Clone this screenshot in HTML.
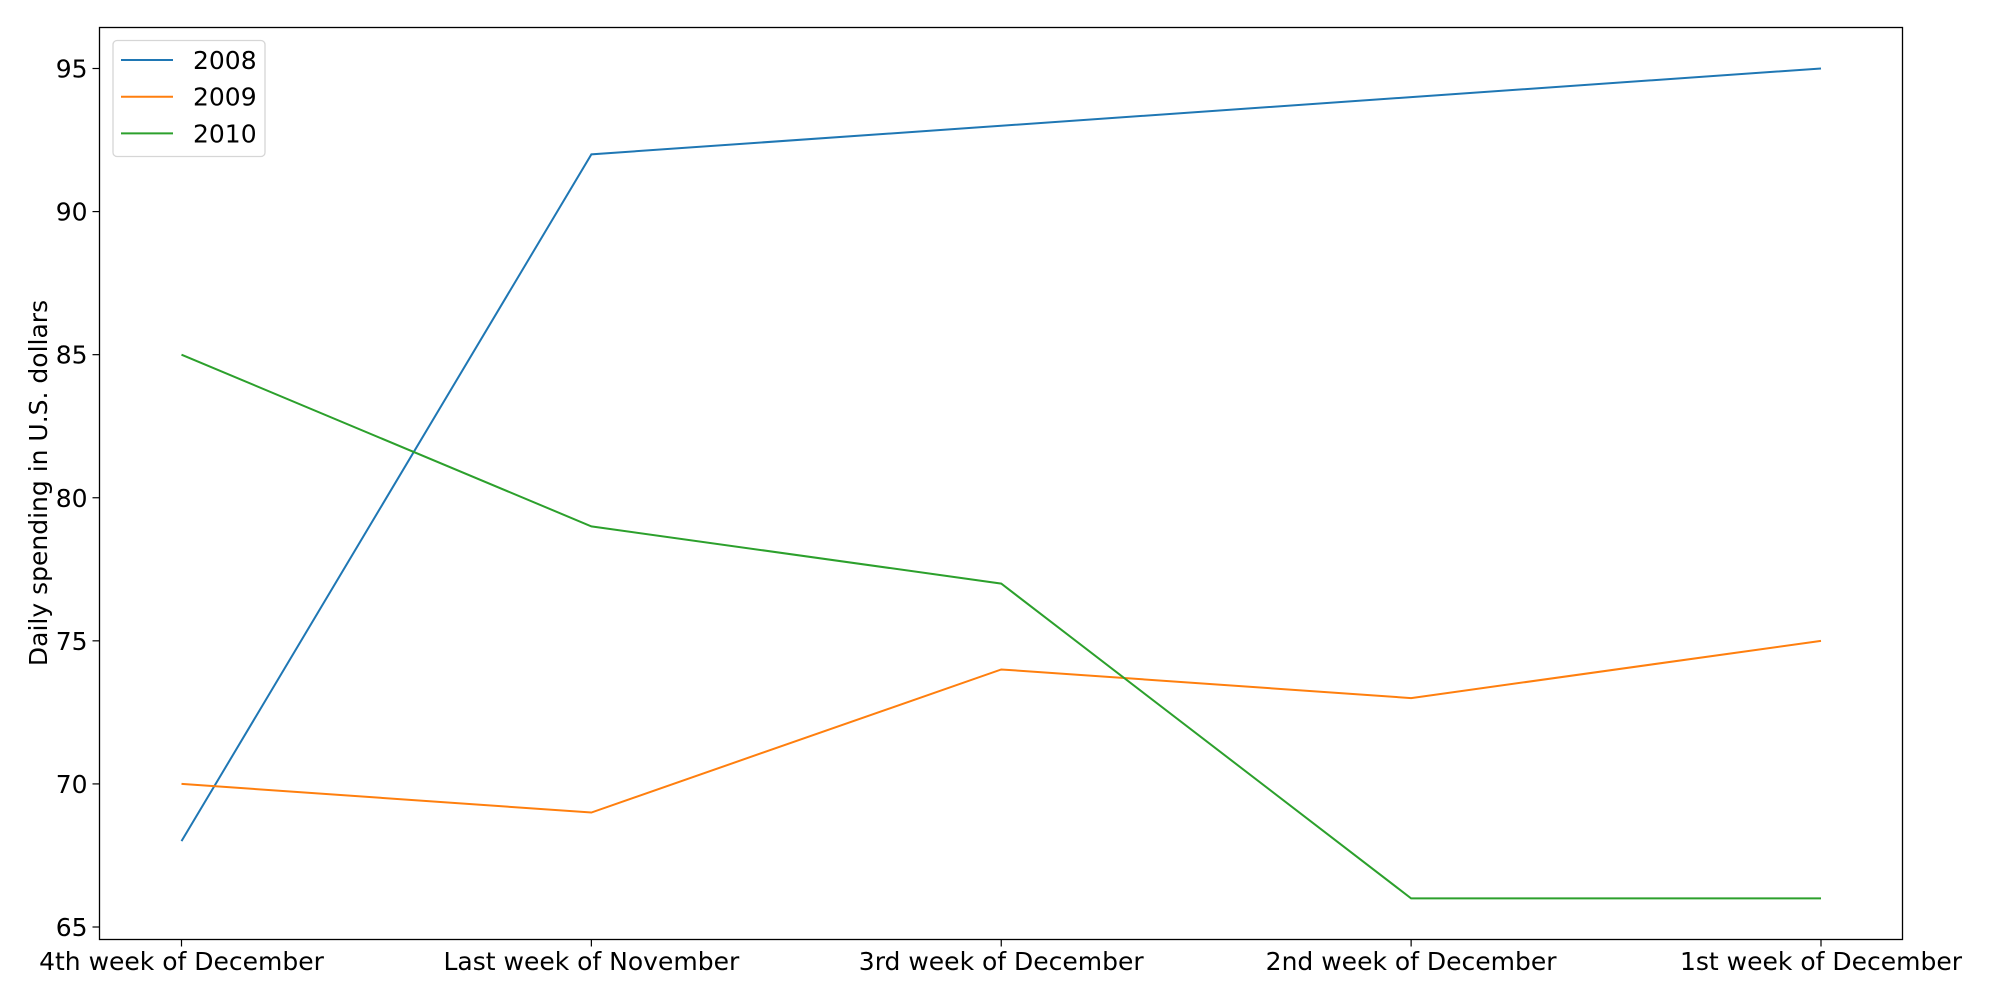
<!DOCTYPE html>
<html><head><meta charset="utf-8"><style>
body{margin:0;background:#fff;}
svg{display:block;font-family:"DejaVu Sans","Liberation Sans",sans-serif;}
</style></head><body>
<svg id="chart" width="2000" height="1000"></svg>
<script>
const categories=["4th week of December","Last week of November","3rd week of December","2nd week of December","1st week of December"];
const s2008=[68,92,93,94,95];
const s2009=[70,69,74,73,75];
const s2010=[85,79,77,66,66];
const seriesNames=["2008","2009","2010"];
const yTicks=[65,70,75,80,85,90,95];
const colors=["#1f77b4","#ff7f0e","#2ca02c"];
const L=99.5,R=1902.5,T=27.5,B=939.5;
const FS=25;
const x=i=>181.5+i*(1821-181.5)/(categories.length-1);
const y=v=>927+(v-65)*(68.5-927)/30;
const svg=document.getElementById('chart');
const NS='http://www.w3.org/2000/svg';
function mk(t,a){const e=document.createElementNS(NS,t);for(const k in a)e.setAttribute(k,a[k]);svg.appendChild(e);return e;}
yTicks.forEach(v=>{
  const t=mk('line',{x1:L-7,x2:L,y1:y(v),y2:y(v),stroke:'#000','stroke-width':1.2});
  
  
  const l=mk('text',{x:L-12,y:y(v)+9,'text-anchor':'end','font-size':FS});
  l.textContent=v;
  
  
});
categories.forEach((c,i)=>{
  const t=mk('line',{x1:x(i),x2:x(i),y1:B,y2:B+7,stroke:'#000','stroke-width':1.2});
  
  
  const l=mk('text',{x:x(i),y:970,'text-anchor':'middle','font-size':FS});
  l.textContent=c;
  
  
});
[s2008,s2009,s2010].forEach((s,k)=>{
  const p=mk('polyline',{points:s.map((v,i)=>x(i)+','+y(v)).join(' '),fill:'none',stroke:colors[k],'stroke-width':2});
  
  
});
const frame=mk('rect',{x:L,y:T,width:R-L,height:B-T,fill:'none',stroke:'#000','stroke-width':1.3});


const yl=mk('text',{x:0,y:0,transform:'translate(47,483) rotate(-90)','text-anchor':'middle','font-size':FS});
yl.textContent='Daily spending in U.S. dollars';


const lg=mk('rect',{x:113,y:40.5,width:152,height:116,rx:4,fill:'#fff',stroke:'#d6d6d6','stroke-width':1.3});


seriesNames.forEach((n,k)=>{
  const yy=60+k*36.7;
  const ln=mk('line',{x1:121,x2:173,y1:yy,y2:yy,stroke:colors[k],'stroke-width':2});
  
  
  const t=mk('text',{x:193,y:yy+9,'font-size':FS});
  t.textContent=n;
  
  
});
</script>
</body></html>
